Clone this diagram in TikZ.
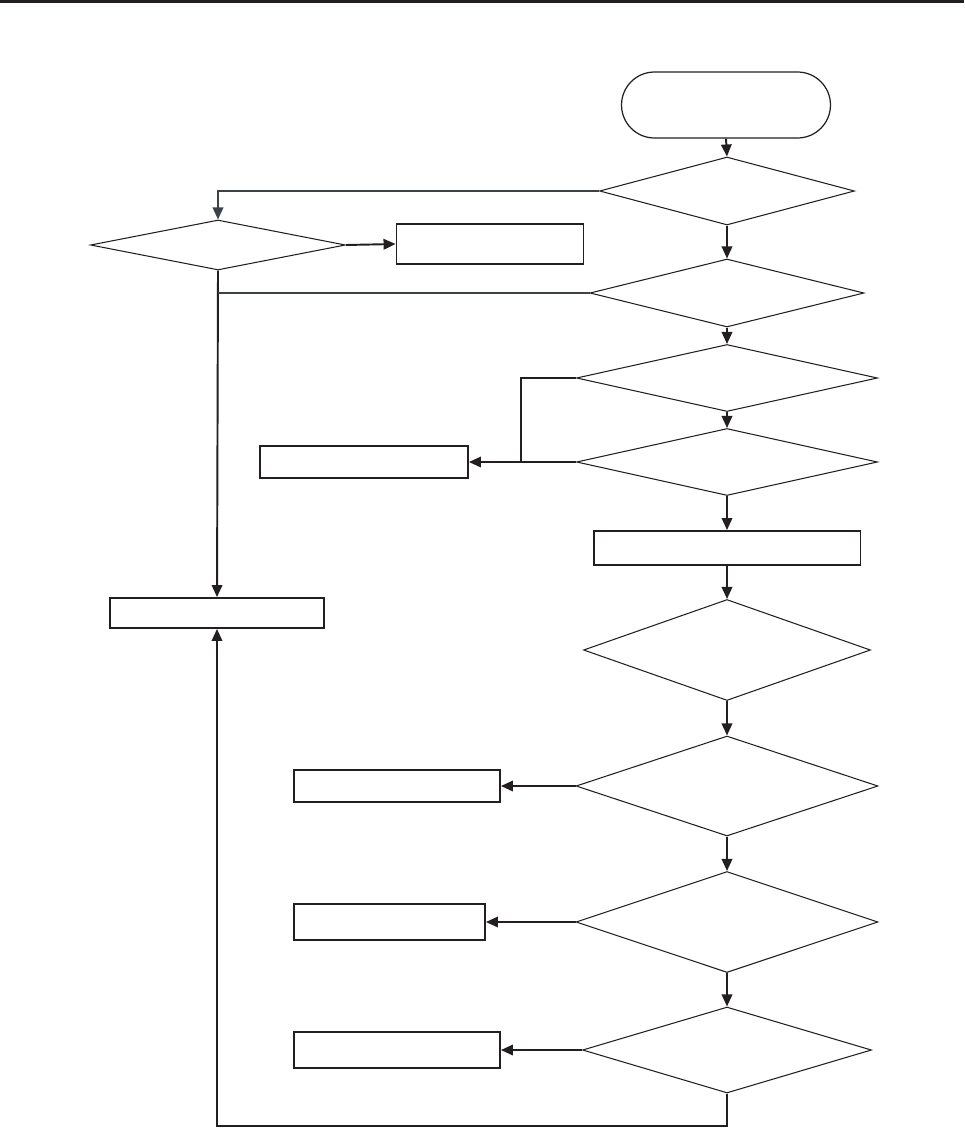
\documentclass[tikz,border=0pt]{standalone}
\usetikzlibrary{arrows.meta,positioning,shapes.geometric,shapes.misc}
\definecolor{fcInk}{HTML}{231f20}
\definecolor{fcSlate}{HTML}{3c4247}
\tikzset{
  >={Triangle[length=2.4mm,width=2.1mm]},
  term/.style={rounded rectangle, draw=fcInk, line width=0.7pt,
              minimum width=4.18cm, minimum height=1.32cm, inner sep=0pt},
  test/.style={diamond, draw=fcInk, line width=0.6pt, inner sep=0pt},
  proc/.style={rectangle, draw=fcInk, line width=1.1pt, inner sep=0pt},
  flow/.style={->, draw=fcInk, line width=1.1pt},
  link/.style={draw=fcInk, line width=1.1pt},
}
\begin{document}
\begin{tikzpicture}[x=0.02cm,y=-0.02cm]
        \useasboundingbox (0,0) rectangle (964,1129);
        \fill[fcInk] (0,0) rectangle (964,3);
        % main column
        \node[term] (start) at (726,105){};
        \node[test,minimum width=5.1cm,minimum height=1.36cm] (d1) at (727,191){};
        \node[test,minimum width=5.48cm,minimum height=1.36cm] (d2) at (727,293){};
        \node[test,minimum width=6.02cm,minimum height=1.34cm] (d3) at (727,378){};
        \node[test,minimum width=6.02cm,minimum height=1.34cm] (d4) at (727,462){};
        \node[proc,minimum width=5.34cm,minimum height=0.68cm] (p1) at (727,548){};
        \node[test,minimum width=5.74cm,minimum height=2.02cm] (d5) at (727,650){};
        \node[test,minimum width=6.04cm,minimum height=2.0cm] (d6) at (727,786){};
        \node[test,minimum width=6.04cm,minimum height=2.02cm] (d7) at (727,922){};
        \node[test,minimum width=5.78cm,minimum height=1.72cm] (d8) at (727,1050){};
        % left side
        \node[test,minimum width=5.1cm,minimum height=1.0cm] (dl) at (218,245){};
        \node[proc,minimum width=3.74cm,minimum height=0.8cm] (bl) at (490,244){};
        \node[proc,minimum width=4.28cm,minimum height=0.6cm] (end) at (217,613){};
        \node[proc,minimum width=4.16cm,minimum height=0.64cm] (r1) at (364,462){};
        \node[proc,minimum width=4.12cm,minimum height=0.64cm] (r6) at (397,786){};
        \node[proc,minimum width=3.82cm,minimum height=0.72cm] (r7) at (389.5,922){};
        \node[proc,minimum width=4.12cm,minimum height=0.72cm] (r8) at (397,1050){};
        \coordinate (jn) at (521,462);
        \coordinate (low) at (727,1126);
        % connectors
        \draw[flow](start.south)--(d1.north);
        \draw[flow](d1.south)--(d2.north);
        \draw[flow](d2.south)--(d3.north);
        \draw[flow](d3.south)--(d4.north);
        \draw[flow](d4.south)--(p1.north);
        \draw[flow](p1.south)--(d5.north);
        \draw[flow](d5.south)--(d6.north);
        \draw[flow](d6.south)--(d7.north);
        \draw[flow](d7.south)--(d8.north);
        \draw[flow,draw=fcSlate](d1.west)-|(dl.north);
        \draw[flow](dl.east)--(bl.west);
        \draw[flow](dl.south)--(end.north);
        \draw[link,draw=fcSlate](d2.west)--(d2.west-|dl.south);
        \draw[link](d3.west)-|(jn);
        \draw[flow](d4.west)--(jn)--(r1.east);
        \draw[flow](d6.west)--(r6.east);
        \draw[flow](d7.west)--(r7.east);
        \draw[flow](d8.west)--(r8.east);
        \draw[flow](d8.south)--(low)-|(end.south);
      \end{tikzpicture}
\end{document}
